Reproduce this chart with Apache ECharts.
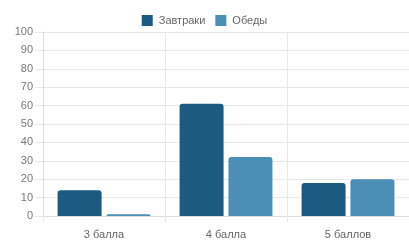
<!DOCTYPE html>
<html>
<head>
<meta charset="utf-8">
<script src="https://cdn.jsdelivr.net/npm/echarts@6/dist/echarts.min.js"></script>
<style>
  html, body { margin: 0; padding: 0; background: #fff; }
  #chart { width: 409px; height: 244px; }
</style>
</head>
<body>
<div id="chart"></div>
<script>
const categories = ['3 балла', '4 балла', '5 баллов'];
const breakfasts = [14, 61, 18];
const lunches = [1, 32, 20];
const seriesNames = ['Завтраки', 'Обеды'];

const chart = echarts.init(document.getElementById('chart'));
const font = 'Liberation Sans, Arial, sans-serif';
const gridColor = '#e8e8e8';

chart.setOption({
  animation: false,
  legend: {
    top: 10,
    left: 'center',
    itemWidth: 11,
    itemHeight: 11,
    itemGap: 10,
    icon: 'rect',
    textStyle: { color: '#666', fontSize: 11, fontFamily: font, padding: [0, 0, 0, 1] },
    data: seriesNames
  },
  grid: { left: 43, right: -6, top: 32, bottom: 28, containLabel: false },
  xAxis: {
    type: 'category',
    data: categories,
    axisLine: { lineStyle: { color: '#dcdcdc' } },
    axisTick: { show: true, length: 6, lineStyle: { color: gridColor } },
    axisLabel: { color: '#666', fontSize: 11, fontFamily: font, margin: 13 },
    splitLine: { show: true, lineStyle: { color: gridColor } }
  },
  yAxis: {
    type: 'value',
    min: 0,
    max: 100,
    interval: 10,
    axisLine: { show: true, lineStyle: { color: '#dcdcdc' } },
    axisTick: { show: true, length: 8, lineStyle: { color: gridColor } },
    axisLabel: { color: '#777', fontSize: 11, fontFamily: font, margin: 10 },
    splitLine: { lineStyle: { color: gridColor } }
  },
  series: [
    {
      name: seriesNames[0],
      type: 'bar',
      data: breakfasts,
      barWidth: 44,
      barGap: '11%',
      itemStyle: { color: '#1c5a82', borderRadius: [3, 3, 0, 0] }
    },
    {
      name: seriesNames[1],
      type: 'bar',
      data: lunches,
      barWidth: 44,
      itemStyle: { color: '#4b8fb6', borderRadius: [3, 3, 0, 0] }
    }
  ]
});
</script>
</body>
</html>
